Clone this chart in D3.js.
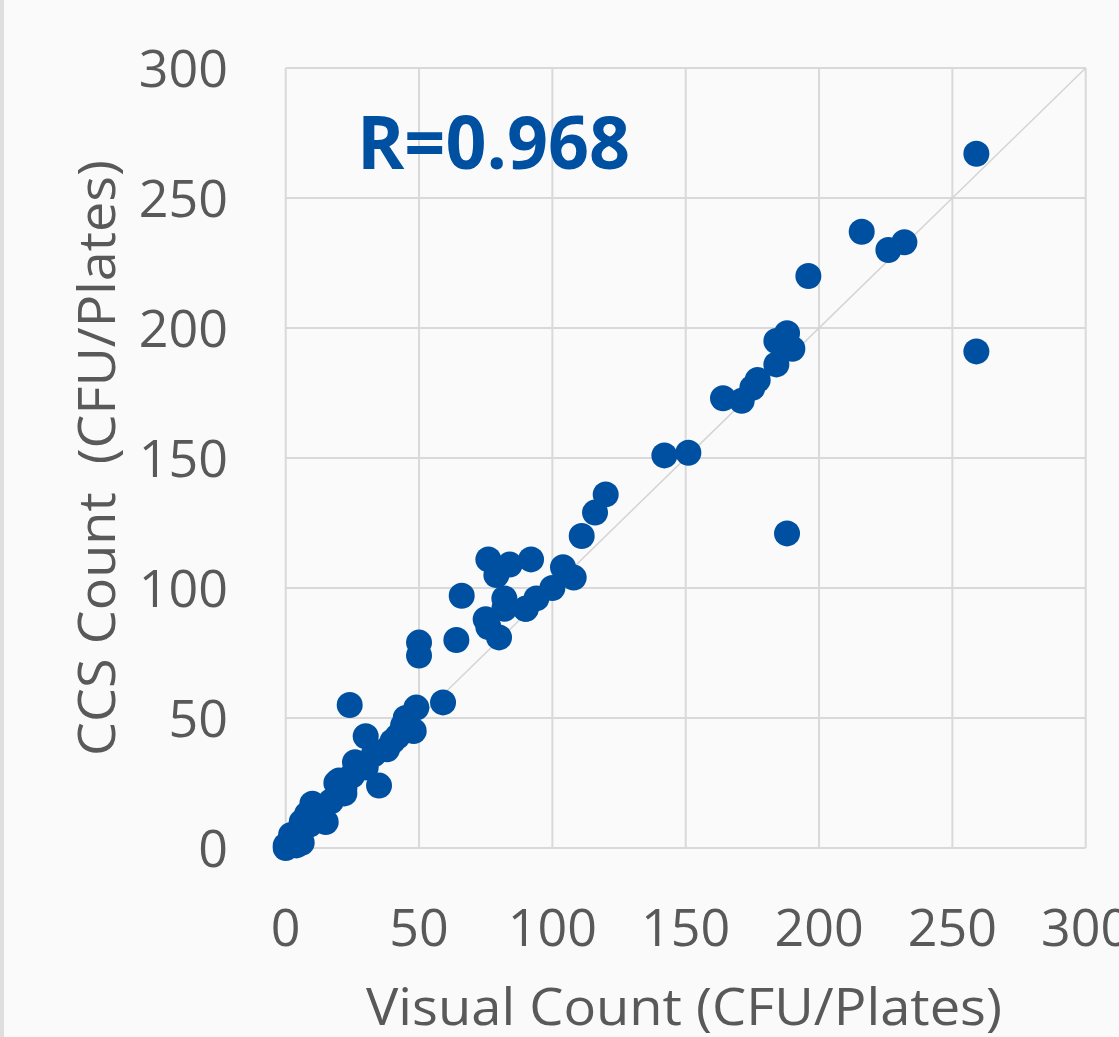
<!DOCTYPE html>
<html>
<head>
<meta charset="utf-8">
<script src="https://cdn.jsdelivr.net/npm/d3@7"></script>
<style>
  html, body { margin: 0; padding: 0; background: #fafafa; overflow: hidden; }
  text { font-family: "Open Sans", "Noto Sans", sans-serif; }
</style>
</head>
<body>
<div id="d3-container"></div>
<script>
/**
 * CONSTANTS AND GLOBALS
 * */
const width = 1119,
  height = 1037,
  margin = { top: 68, bottom: 189, left: 285.7, right: 33.3 };

// visual count (x) and CCS count (y)
const visualCount = [259, 259, 216, 226, 232, 196, 188,
  188, 184, 190, 184, 177, 175, 171, 164, 151, 142,
  120, 116, 111,
  104, 108, 100, 94, 90, 82, 76, 84, 92, 79, 66, 75, 76, 80, 64, 50, 50, 59, 49, 82, 90,
  24, 45, 48, 30, 40, 38, 26, 30, 35, 20, 22, 22, 10, 15, 8, 7, 4, 0, 6, 2, 6, 19,
  1, 3, 9, 12, 17, 25, 28, 33, 42, 44, 0, 4];
const ccsCount = [267, 191, 237, 230, 233, 220, 121,
  198, 195, 192, 186, 180, 177, 172, 173, 152, 151,
  136, 129, 120,
  108, 104, 100, 96, 92, 96, 111, 109, 111, 105, 97, 88, 85, 81, 80, 79, 74, 56, 54, 92, 92,
  55, 50, 45, 43, 41, 38, 33, 31, 24, 26, 21, 23, 17, 10, 13, 8, 4, 0, 2, 5, 10, 25,
  1, 3, 9, 14, 18, 28, 31, 36, 43, 47, 1, 1];
const ticks = [0, 50, 100, 150, 200, 250, 300];
const rLabel = "R=0.968";
const xTitle = "Visual Count (CFU/Plates)";
const yTitle = "CCS Count\u00a0\u00a0(CFU/Plates)";

const points = visualCount.map((v, i) => ({ x: v, y: ccsCount[i] }));

let svg;

function init() {
  const xScale = d3.scaleLinear([0, 300], [margin.left, width - margin.right]);
  const yScale = d3.scaleLinear([0, 300], [height - margin.bottom, margin.top]);

  svg = d3.select("#d3-container")
    .append("svg")
    .attr("width", width)
    .attr("height", height);

  svg.append("rect")
    .attr("width", width).attr("height", height)
    .attr("fill", "#fafafa");
  // thin grey strip on the far left
  svg.append("rect")
    .attr("width", 4).attr("height", height)
    .attr("fill", "#dedede");

  // gridlines
  svg.append("g")
    .selectAll("line")
    .data(ticks)
    .join("line")
    .attr("x1", d => xScale(d)).attr("x2", d => xScale(d))
    .attr("y1", yScale(0)).attr("y2", yScale(300))
    .attr("stroke", "#d9d9d9").attr("stroke-width", 2);
  svg.append("g")
    .selectAll("line")
    .data(ticks)
    .join("line")
    .attr("y1", d => yScale(d)).attr("y2", d => yScale(d))
    .attr("x1", xScale(0)).attr("x2", xScale(300))
    .attr("stroke", "#d9d9d9").attr("stroke-width", 2);

  // y = x reference
  svg.append("line")
    .attr("x1", xScale(0)).attr("y1", yScale(0))
    .attr("x2", xScale(300)).attr("y2", yScale(300))
    .attr("stroke", "#d4d4d4").attr("stroke-width", 1.5);

  // tick labels
  svg.append("g")
    .selectAll("text")
    .data(ticks)
    .join("text")
    .attr("x", d => xScale(d))
    .attr("y", 946)
    .attr("text-anchor", "middle")
    .attr("font-size", 52)
    .attr("fill", "#595959")
    .text(d => d);
  svg.append("g")
    .selectAll("text")
    .data(ticks)
    .join("text")
    .attr("x", 228)
    .attr("y", d => yScale(d) + 19)
    .attr("text-anchor", "end")
    .attr("font-size", 52)
    .attr("fill", "#595959")
    .text(d => d);

  // axis titles
  svg.append("text")
    .attr("x", 684).attr("y", 1025)
    .attr("text-anchor", "middle")
    .attr("font-size", 52)
    .attr("textLength", 636)
    .attr("lengthAdjust", "spacingAndGlyphs")
    .attr("fill", "#595959")
    .text(xTitle);
  svg.append("text")
    .attr("transform", "translate(115,458) rotate(-90)")
    .attr("text-anchor", "middle")
    .attr("font-size", 52)
    .attr("textLength", 596)
    .attr("lengthAdjust", "spacingAndGlyphs")
    .attr("fill", "#595959")
    .text(yTitle);

  // dots
  svg.append("g")
    .selectAll("circle")
    .data(points)
    .join("circle")
    .attr("cx", d => xScale(d.x))
    .attr("cy", d => yScale(d.y))
    .attr("r", 13)
    .attr("fill", "#0050a1");

  // correlation label
  svg.append("text")
    .attr("x", 357).attr("y", 169)
    .attr("font-size", 73)
    .attr("font-weight", "bold")
    .attr("textLength", 273)
    .attr("lengthAdjust", "spacingAndGlyphs")
    .attr("fill", "#0050a1")
    .text(rLabel);
}

init();
</script>
</body>
</html>
